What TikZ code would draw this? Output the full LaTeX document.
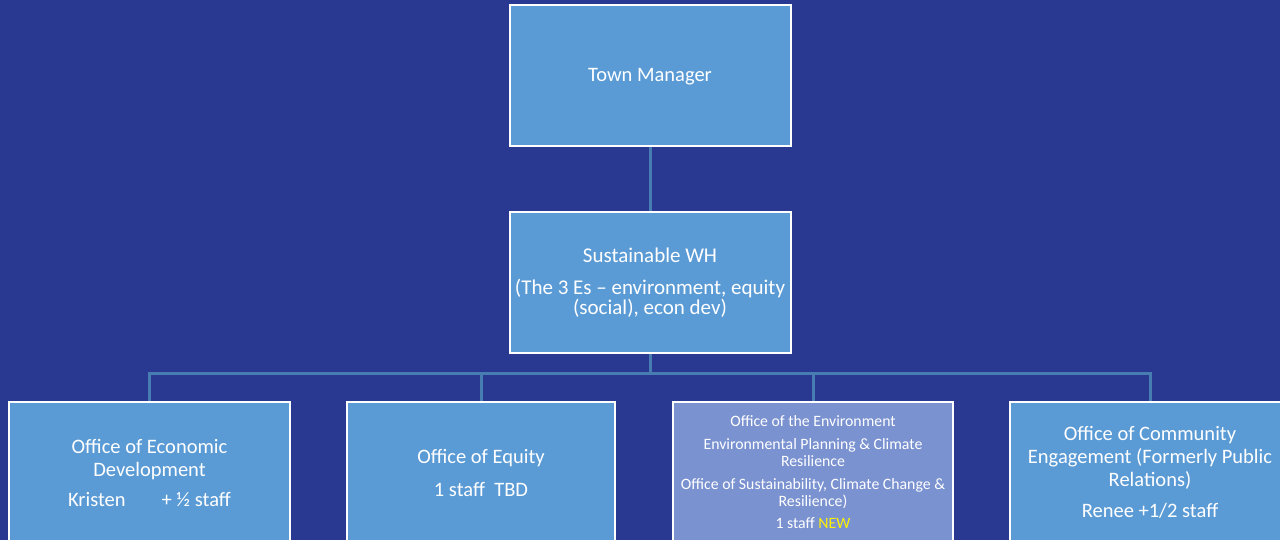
\documentclass[tikz,border=0pt]{standalone}
\usepackage{fontspec}
\setmainfont{Carlito}
\usepackage{xcolor}
\usetikzlibrary{positioning,calc,backgrounds}

\definecolor{slidebg}{RGB}{41,56,144}
\definecolor{boxblue}{RGB}{91,155,213}
\definecolor{envblue}{RGB}{122,146,208}
\definecolor{linkblue}{RGB}{71,125,176}

\newcommand{\bigtxt}{\fontsize{21}{20}\selectfont}
\newcommand{\midtxt}{\fontsize{20.5}{23}\selectfont}
\newcommand{\smalltxt}{\fontsize{15.8}{17}\selectfont}

\begin{document}
\begin{tikzpicture}[x=1pt, y=-1pt,
    orgbox/.style={draw=white, line width=2pt, fill=boxblue, text=white,
        align=center, minimum width=281pt, minimum height=141pt, inner sep=0pt},
    link/.style={draw=linkblue, line width=3pt}]
    \useasboundingbox (0,0) rectangle (1280,540);
    \clip (0,0) rectangle (1280,540);

    % Top level
    \node[orgbox, font=\midtxt, text depth=2pt] (manager) at (650,75.5) {Town Manager};

    % Middle level
    \node[orgbox, font=\bigtxt] (sustain) at (650,282.5)
        {\rule{0pt}{4pt}Sustainable WH\\[12pt] (The 3 Es -- environment, equity\\ (social), econ dev)};

    % Offices
    \node[orgbox, font=\midtxt] (econ) at (149.5,472.5)
        {Office of Economic\\ Development\\[7pt] Kristen\hspace{36pt}+ ½ staff};
    \node[orgbox, font=\midtxt, minimum width=268pt] (equity) at (481,472.5)
        {Office of Equity\\[10pt] 1 staff\ \ TBD};
    \node[orgbox, font=\smalltxt, fill=envblue, minimum width=280pt] (environ) at (813,472.5)
        {Office of the Environment\\[6pt] Environmental Planning \& Climate\\ Resilience\\[6pt]
         Office of Sustainability, Climate Change \&\\ Resilience)\\[5pt]
         1 staff \textcolor{yellow}{NEW}};
    \node[orgbox, font=\midtxt, minimum width=280pt] (commun) at (1150,472.5)
        {Office of Community\\ Engagement (Formerly Public\\ Relations)\\[8pt] Renee +1/2 staff};

    % Connectors
    \begin{scope}[on background layer]
        \fill[slidebg] (0,0) rectangle (1280,540);
        \coordinate (bus) at ($(sustain.south)+(0,19)$);
        \draw[link] (manager) -- (sustain);
        \draw[link] (sustain) -- (bus);
        \draw[link] (bus) -| (econ);
        \draw[link] (bus) -| (equity);
        \draw[link] (bus) -| (environ);
        \draw[link] (bus) -| (commun);
    \end{scope}
\end{tikzpicture}
\end{document}
